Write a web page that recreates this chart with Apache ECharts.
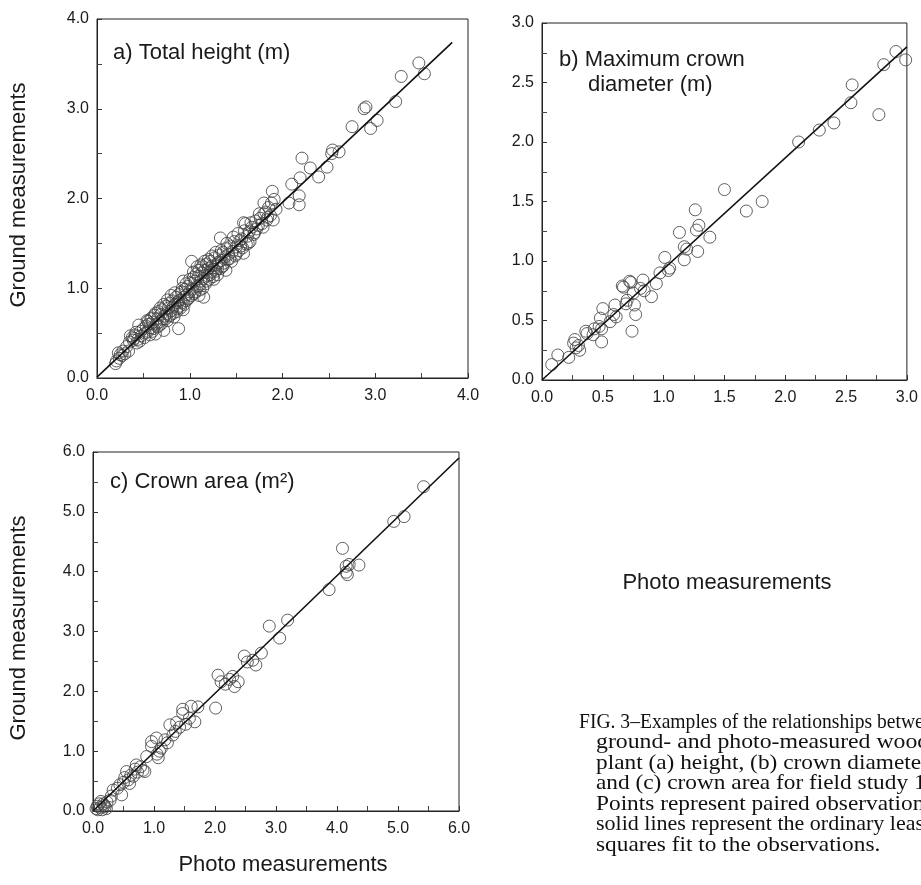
<!DOCTYPE html>
<html>
<head>
<meta charset="utf-8">
<script src="https://cdn.jsdelivr.net/npm/echarts@6/dist/echarts.min.js"></script>
<style>
  html, body { margin: 0; padding: 0; background: #fff; }
  #chart { width: 921px; height: 885px; }
</style>
</head>
<body>
<div id="chart"></div>
<script>
// a) total height (m): photo vs ground
const heightPhoto = [0.21,0.23,0.25,0.27,0.24,0.30,0.20,0.28,0.35,0.38,0.40,0.42,0.45,0.44,0.46,0.48,0.39,0.43,0.36,
  0.50,0.52,0.53,0.55,0.56,0.58,0.54,0.57,0.60,0.59,0.61,0.63,0.62,0.64,0.65,0.66,0.67,0.68,0.69,0.70,0.71,0.72,0.73,
  0.74,0.75,0.76,0.77,0.78,0.79,0.80,0.81,0.82,0.83,0.84,0.85,0.86,0.87,0.88,0.88,0.89,0.90,0.91,0.92,0.93,0.94,0.95,
  0.96,0.97,0.98,0.99,1.00,1.01,1.02,1.03,1.04,1.05,1.06,1.07,1.08,1.09,1.10,1.11,1.12,1.13,1.14,1.15,1.15,1.16,1.17,
  1.18,1.19,1.20,1.21,1.22,1.23,1.24,1.25,1.26,1.27,1.28,1.29,1.30,1.31,1.32,1.33,1.33,1.34,1.35,1.36,1.37,1.38,1.39,
  1.40,1.41,1.42,1.44,1.45,1.46,1.48,1.49,1.50,1.52,1.53,1.55,1.56,1.58,1.60,1.61,1.62,1.64,1.65,1.67,1.69,1.71,1.72,
  1.74,1.76,1.78,1.80,1.82,1.83,1.85,1.87,1.89,1.90,1.91,1.93,1.58,1.80,
  0.32,0.34,0.41,0.47,0.51,0.55,0.58,0.60,0.63,0.65,0.68,0.70,0.72,0.74,0.76,0.78,0.80,0.82,0.84,0.86,0.88,0.90,0.92,
  0.94,0.96,0.98,1.00,1.02,1.04,1.06,1.08,1.10,1.12,1.14,1.16,1.18,1.20,1.22,1.24,1.26,1.28,1.30,1.34,1.36,1.40,1.43,
  1.47,1.50,1.54,1.57,1.59,1.63,1.66,1.70,1.75,1.79,1.84,1.88,0.93,1.10,
  2.07,2.10,2.19,2.18,2.18,2.21,2.30,2.39,2.48,2.54,2.61,2.53,2.75,2.88,2.90,2.95,3.02,3.22,3.28,3.47,3.53];
const heightGround = [0.19,0.28,0.26,0.25,0.22,0.27,0.16,0.30,0.40,0.45,0.44,0.51,0.59,0.43,0.41,0.47,0.42,0.39,0.47,
  0.55,0.50,0.58,0.52,0.60,0.56,0.64,0.48,0.62,0.67,0.55,0.49,0.70,0.60,0.66,0.74,0.58,0.63,0.71,0.76,0.66,0.53,0.69,
  0.80,0.72,0.64,0.78,0.83,0.70,0.75,0.86,0.79,0.68,0.82,0.90,0.77,0.84,0.55,0.93,0.80,0.87,0.96,0.84,0.76,0.90,0.99,
  0.86,0.93,1.02,0.89,0.96,1.06,1.30,0.99,1.12,0.94,1.08,1.16,1.02,1.13,1.20,0.98,1.08,1.17,1.24,0.90,1.11,1.20,1.05,
  1.27,1.14,1.22,1.10,1.30,1.18,1.25,1.13,1.21,1.34,1.19,1.26,1.15,1.29,1.37,1.56,1.22,1.31,1.24,1.40,1.28,1.35,1.20,
  1.44,1.32,1.38,1.47,1.30,1.41,1.52,1.36,1.46,1.61,1.42,1.47,1.55,1.39,1.72,1.49,1.58,1.63,1.52,1.68,1.60,1.75,1.66,
  1.70,1.78,1.72,1.83,1.85,1.76,1.90,1.81,2.08,1.76,1.99,1.88,1.73,1.95,
  0.35,0.30,0.48,0.52,0.45,0.63,0.66,0.52,0.72,0.57,0.78,0.61,0.82,0.66,0.87,0.69,0.92,0.72,0.95,0.74,0.86,0.78,1.00,
  0.82,1.05,0.88,1.10,0.92,1.18,0.96,1.24,1.03,1.26,1.00,1.30,1.08,1.32,1.15,1.36,1.10,1.40,1.22,1.42,1.25,1.50,1.33,
  1.57,1.38,1.53,1.45,1.64,1.50,1.73,1.62,1.83,1.68,1.79,1.95,1.08,0.92,
  1.95,2.16,2.23,2.03,1.93,2.45,2.34,2.24,2.35,2.54,2.52,2.50,2.80,3.00,3.02,2.78,2.87,3.08,3.36,3.51,3.39];

// b) maximum crown diameter (m)
const diamPhoto = [0.08,0.13,0.22,0.26,0.27,0.28,0.31,0.30,0.36,0.37,0.42,0.43,0.47,0.49,0.49,0.50,0.48,0.56,0.59,0.61,
  0.60,0.66,0.67,0.69,0.70,0.72,0.73,0.75,0.76,0.77,0.74,0.81,0.83,0.84,0.90,0.94,0.97,1.01,1.04,1.05,1.13,1.17,1.17,
  1.19,1.26,1.27,1.29,1.28,1.38,1.50,1.68,1.81,2.11,2.28,2.40,2.54,2.55,2.77,2.81,2.91,2.99];
const diamGround = [0.13,0.21,0.19,0.31,0.34,0.27,0.25,0.29,0.41,0.39,0.38,0.43,0.45,0.32,0.43,0.60,0.52,0.49,0.55,0.53,
  0.63,0.79,0.78,0.64,0.67,0.83,0.82,0.73,0.63,0.55,0.41,0.77,0.84,0.75,0.70,0.81,0.90,1.03,0.92,0.94,1.24,1.01,1.12,
  1.10,1.43,1.26,1.30,1.08,1.20,1.60,1.42,1.50,2.00,2.10,2.16,2.33,2.48,2.23,2.65,2.76,2.69];

// c) crown area (m2)
const areaPhoto = [0.05,0.07,0.10,0.12,0.15,0.17,0.20,0.22,0.23,0.13,0.08,0.18,0.28,0.33,0.30,0.47,0.44,0.40,0.52,0.50,
  0.55,0.58,0.60,0.62,0.66,0.69,0.71,0.73,0.78,0.85,0.82,0.88,0.96,0.96,1.04,1.07,1.09,1.05,1.12,1.18,1.22,1.26,1.31,
  1.37,1.35,1.42,1.47,1.47,1.52,1.58,1.61,1.67,1.72,2.01,2.05,2.10,2.17,2.24,2.29,2.32,2.38,2.48,2.53,2.62,2.67,2.76,
  2.89,3.06,3.19,3.87,4.09,4.15,4.20,4.17,4.15,4.36,4.93,5.10,5.42];
const areaGround = [0.04,0.08,0.12,0.06,0.02,0.12,0.07,0.04,0.15,0.16,0.02,0.09,0.18,0.35,0.25,0.27,0.44,0.38,0.56,0.48,
  0.66,0.52,0.46,0.60,0.58,0.70,0.77,0.65,0.74,0.66,0.68,0.91,1.08,1.16,1.22,0.89,1.00,0.95,1.05,1.19,1.14,1.44,1.27,
  1.48,1.33,1.40,1.70,1.63,1.45,1.55,1.75,1.49,1.74,1.72,2.27,2.16,2.12,2.20,2.25,2.08,2.16,2.59,2.49,2.52,2.44,2.64,
  3.09,2.89,3.19,3.70,4.39,4.09,4.12,3.95,3.99,4.11,4.84,4.92,5.42];

// least squares fit lines, end points
const heightFit = [[0, 0.01], [3.83, 3.74]];
const diamFit = [[0, 0.0], [3.0, 2.80]];
const areaFit = [[0, 0.0], [6.0, 5.9]];

const captionLines = [
  'FIG. 3–Examples of the relationships between',
  'ground- and photo-measured woody',
  'plant (a) height, (b) crown diameter,',
  'and (c) crown area for field study 1.',
  'Points represent paired observations;',
  'solid lines represent the ordinary least',
  'squares fit to the observations.'
];
// the printed lines are justified, so some are squeezed and some spread
const captionStretch = [0.89, 1.08, 1.06, 1.06, 1.06, 1.0, 1.06];

const zip = (xs, ys) => xs.map((x, i) => [x, ys[i]]);

const chart = echarts.init(document.getElementById('chart'));

const sans = '"Liberation Sans", Arial, sans-serif';

function axis(grid, max, interval, margin) {
  return {
    type: 'value',
    gridIndex: grid,
    min: 0,
    max: max,
    interval: interval,
    axisLine: { show: true, onZero: false, lineStyle: { color: '#222', width: 1 } },
    axisTick: { show: true, inside: true, length: 5, lineStyle: { color: '#333' } },
    minorTick: { show: true, splitNumber: 2, length: 5, lineStyle: { color: '#444' } },
    splitLine: { show: false },
    axisLabel: {
      formatter: v => v.toFixed(1),
      fontSize: 16,
      color: '#1a1a1a',
      fontFamily: sans,
      margin: margin
    }
  };
}

function scatter(i, data) {
  return {
    type: 'scatter',
    xAxisIndex: i,
    yAxisIndex: i,
    data: data,
    symbol: 'circle',
    symbolSize: 12,
    itemStyle: { color: 'rgba(0,0,0,0)', borderColor: '#444', borderWidth: 1, opacity: 0.85 },
    silent: true
  };
}

function fit(i, data) {
  return {
    type: 'line',
    xAxisIndex: i,
    yAxisIndex: i,
    data: data,
    showSymbol: false,
    lineStyle: { color: '#111', width: 1.6 },
    z: 5,
    silent: true
  };
}

function label(x, y, text, opts) {
  opts = opts || {};
  return {
    type: 'text',
    x: x,
    y: y,
    rotation: opts.rotate ? Math.PI / 2 : 0,
    style: {
      text: text,
      font: '22px ' + sans,
      fill: '#1a1a1a',
      textAlign: opts.align || 'left',
      textVerticalAlign: 'middle'
    }
  };
}

const caption = captionLines.map((t, i) => ({
  type: 'text',
  x: i === 0 ? 579 : 596,
  y: 722 + i * 20.5,
  scaleX: captionStretch[i],
  style: {
    text: t,
    font: '22px "Liberation Serif", "Times New Roman", serif',
    fill: '#111',
    textAlign: 'left',
    textVerticalAlign: 'middle'
  }
}));

const gridBox = { show: true, borderColor: '#222', borderWidth: 1, backgroundColor: 'transparent' };

chart.setOption({
  animation: false,
  backgroundColor: '#fff',
  grid: [
    Object.assign({ left: 97, top: 19, width: 371, height: 359 }, gridBox),
    Object.assign({ left: 542, top: 23, width: 366, height: 357 }, gridBox),
    Object.assign({ left: 93, top: 452, width: 366, height: 359 }, gridBox)
  ],
  xAxis: [axis(0, 4, 1, 10), axis(1, 3, 0.5, 10), axis(2, 6, 1, 10)],
  yAxis: [axis(0, 4, 1, 8), axis(1, 3, 0.5, 8), axis(2, 6, 1, 8)],
  series: [
    scatter(0, zip(heightPhoto, heightGround)),
    fit(0, heightFit),
    scatter(1, zip(diamPhoto, diamGround)),
    fit(1, diamFit),
    scatter(2, zip(areaPhoto, areaGround)),
    fit(2, areaFit)
  ],
  graphic: [
    label(113, 53, 'a) Total height (m)'),
    label(559, 60, 'b) Maximum crown'),
    label(588, 85, 'diameter (m)'),
    label(110, 482, 'c) Crown area (m²)'),
    label(19, 195, 'Ground measurements', { rotate: true, align: 'center' }),
    label(19, 628, 'Ground measurements', { rotate: true, align: 'center' }),
    label(727, 583, 'Photo measurements', { align: 'center' }),
    label(283, 865, 'Photo measurements', { align: 'center' })
  ].concat(caption)
});
</script>
</body>
</html>
